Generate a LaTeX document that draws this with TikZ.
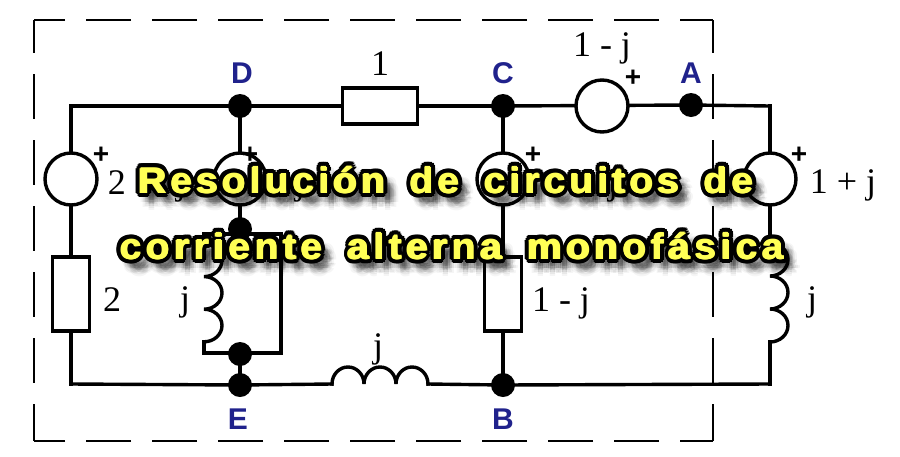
\documentclass[tikz,border=0pt]{standalone}
\usepackage{fontspec}
\setmainfont{Liberation Serif}
\newfontfamily\labelfont{Liberation Sans}
\newfontfamily\titlefont{Liberation Sans}[LetterSpace=11.5,WordSpace=1.65,FakeStretch=1.08]
\newfontfamily\titlefontb{Liberation Sans}[LetterSpace=12.5,WordSpace=1.65,FakeStretch=1.08]
\definecolor{labelblue}{RGB}{32,34,140}
\definecolor{titleyellow}{RGB}{255,255,85}
\tikzset{
  wire/.style={line width=3.4pt,line cap=rect},
  dot/.style={circle,fill=black,inner sep=0pt,minimum size=24pt},
  source/.style={circle,draw,line width=3.4pt,fill=white,inner sep=0pt,minimum size=52pt},
  res/.style={rectangle,draw,line width=3.4pt,fill=white,inner sep=0pt},
  val/.style={font=\fontsize{36}{36}\selectfont,inner sep=0pt},
  letter/.style={font=\labelfont\bfseries\fontsize{30}{30}\selectfont,text=labelblue,inner sep=0pt},
  plus/.style={font=\labelfont\bfseries\fontsize{28}{28}\selectfont,inner sep=0pt},
  titletext/.style={font=\bfseries\fontsize{36}{36}\selectfont,inner sep=0pt,anchor=base}
}
\newcommand{\titleline}[3]{
  \foreach \r/\o in {8/.04,6/.05,4/.06,2/.07}
    \foreach \a in {0,45,...,315}
      \node[titletext,text=black,text opacity=\o] (#1s\r\a) at ($(#2)+(8,9)+(\a:\r)$) {#3};
  \foreach \a in {0,22.5,...,337.5}
    \node[titletext,text=black] (#1o\a) at ($(#2)+(\a:4.6)$) {#3};
  \foreach \a in {0,90,180,270}
    \node[titletext,text=titleyellow] (#1y\a) at ($(#2)+(\a:.7)$) {#3};
}
\usetikzlibrary{calc}
\begin{document}
\begin{tikzpicture}[x=1pt,y=-1pt]
  \useasboundingbox (0,0) rectangle (900,456);
  \fill[white] (0,0) rectangle (900,456);
  \draw
    (240,106) node[dot] (D){}
    (503,106) node[dot] (C){}
    (691,105) node[dot] (A){}
    (240,385) node[dot] (E){}
    (503,385) node[dot] (B){}
    (240,229) node[dot] (F){}
    (240,354) node[dot] (G){};
  \draw
    (71,106) coordinate (tl)
    (770,106) coordinate (tr)
    (71,384) coordinate (bl)
    (770,384) coordinate (br)
    (204,234) coordinate (boxtl)
    (281,234) coordinate (boxtr)
    (204,353) coordinate (boxbl)
    (281,353) coordinate (boxbr)
    (204,244) coordinate (coilmtop)
    (204,342) coordinate (coilmbot)
    (770,243) coordinate (coilrtop)
    (770,342) coordinate (coilrbot)
    (332,384) coordinate (coilbl)
    (428,384) coordinate (coilbr);
  \begin{scope}[wire]
    \draw (tl) to (D);
    \draw (D) to (C);
    \draw (C) to (A);
    \draw (A) to (tr);
    \draw (tl) to (bl);
    \draw (bl) to (E);
    \draw (E) to (coilbl);
    \draw (coilbr) to (B);
    \draw (B) to (br);
    \draw (tr) to (coilrtop);
    \draw (coilrbot) to (br);
    \draw (D) to (F);
    \draw (G) to (E);
    \draw (C) to (B);
    \draw (boxtl) to (boxtr);
    \draw (boxtr) to (boxbr);
    \draw (boxbr) to (boxbl);
    \draw (boxbl) to (coilmbot);
    \draw (boxtl) to (coilmtop);
    \draw (coilmtop) arc[start angle=90,end angle=-90,x radius=18pt,y radius=16.3pt]
      arc[start angle=90,end angle=-90,x radius=18pt,y radius=16.3pt]
      arc[start angle=90,end angle=-90,x radius=18pt,y radius=16.3pt];
    \draw (coilrtop) arc[start angle=90,end angle=-90,x radius=18pt,y radius=16.5pt]
      arc[start angle=90,end angle=-90,x radius=18pt,y radius=16.5pt]
      arc[start angle=90,end angle=-90,x radius=18pt,y radius=16.5pt];
    \draw (coilbl) arc[start angle=180,end angle=0,x radius=16pt,y radius=17pt]
      arc[start angle=180,end angle=0,x radius=16pt,y radius=17pt]
      arc[start angle=180,end angle=0,x radius=16pt,y radius=17pt];
  \end{scope}
  \draw
    (71,179) node[source] (V1){}
    (240,179) node[source] (V2){}
    (503,179) node[source] (V3){}
    (770,179) node[source] (V4){}
    (602,106) node[source] (V5){}
    (380,106) node[res,minimum width=75pt,minimum height=36pt] (R1){}
    (71,294) node[res,minimum width=37pt,minimum height=74pt] (R2){}
    (503,294) node[res,minimum width=37pt,minimum height=74pt] (R3){};
  \begin{scope}[line width=2.8pt,dash pattern=on 45pt off 21pt]
    \draw[dash phase=12pt] (713,20) coordinate (boxa) to (34,20) coordinate (boxb);
    \draw[dash phase=12pt] (boxa) to (713,441) coordinate (boxc);
    \draw[dash phase=12pt] (boxb) to (34,441) coordinate (boxd);
    \draw[dash phase=12pt] (boxc) to (boxd);
  \end{scope}
  \draw
    (242,73) node[letter] (labD){D}
    (503,73) node[letter] (labC){C}
    (691,73) node[letter] (labA){A}
    (238,419) node[letter] (labE){E}
    (503,419) node[letter] (labB){B}
    (101,155) node[plus] (p1){+}
    (250,155) node[plus] (p2){+}
    (533,155) node[plus] (p3){+}
    (799,155) node[plus] (p4){+}
    (633,78) node[plus] (p5){+}
    (380,64) node[val] (z1){1}
    (602,48) node[val] (z2){1 - j}
    (147,186) node[val] (z3){2 \,+\, j}
    (300,186) node[val] (z4){j}
    (613,186) node[val] (z5){j}
    (843,185) node[val] (z6){1 + j}
    (112,300) node[val] (z7){2}
    (185,302) node[val] (z8){j}
    (561,303) node[val] (z9){1 - j}
    (812,302) node[val] (z10){j}
    (378,349) node[val] (z11){j};
  \coordinate (titlea) at (446,193);
  \coordinate (titleb) at (452,259);
  \titleline{linea}{titlea}{\titlefont Resolución de circuitos de}
  \titleline{lineb}{titleb}{\titlefontb corriente alterna monofásica}
\end{tikzpicture}
\end{document}
